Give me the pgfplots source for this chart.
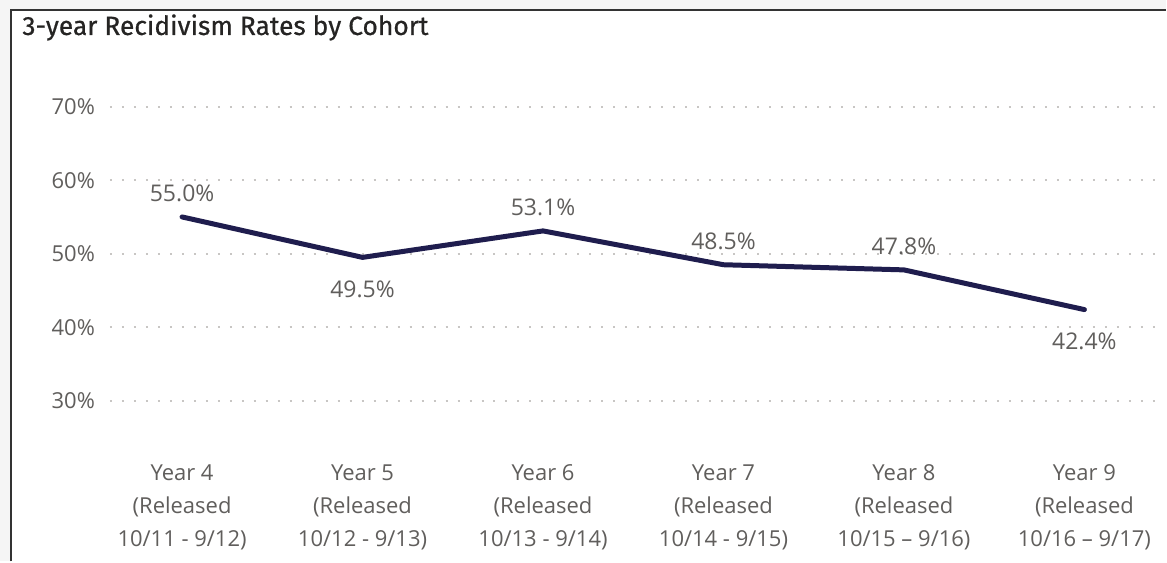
\documentclass[border=0pt]{standalone}
\usepackage{pgfplots}
\pgfplotsset{compat=1.18}
\usepackage{fontspec}
\setmainfont{Open Sans}
\newfontfamily\titlefont[FakeBold=0.6]{Fira Sans}
\definecolor{navy}{HTML}{1F1D4E}
\definecolor{lblgray}{HTML}{605E5C}
\definecolor{gridgray}{HTML}{C8C6C4}
\definecolor{titlecol}{HTML}{252423}

\begin{document}
\begin{tikzpicture}[x=1pt,y=1pt]
% frame
\fill[black!4] (0,0) rectangle (583.5,281);
\fill[white] (5.5,0) rectangle (583.5,276);
\draw[black!80, line width=1.2pt] (5.5,0) -- (5.5,276) -- (583.5,276);
\node[anchor=base west, font=\titlefont\fontsize{13.2}{15}\selectfont, text=titlecol, inner sep=0]
  at (11,263.5) {3-year Recidivism Rates by Cohort};

\begin{axis}[
    at={(55pt,62pt)}, anchor=south west,
    scale only axis, width=527.5pt, height=173pt,
    xmin=-0.4, xmax=5.44, ymin=25, ymax=72,
    axis line style={draw=none},
    major tick length=0pt,
    clip=false,
    ytick={30,40,50,60,70},
    yticklabels={30\%,40\%,50\%,60\%,70\%},
    yticklabel style={font=\fontsize{11}{13}\selectfont, text=lblgray, xshift=-4pt},
    xtick={0,1,2,3,4,5},
    xticklabels={
        {Year 4\\(Released\\10/11 - 9/12)},
        {Year 5\\(Released\\10/12 - 9/13)},
        {Year 6\\(Released\\10/13 - 9/14)},
        {Year 7\\(Released\\10/14 - 9/15)},
        {Year 8\\(Released\\10/15 – 9/16)},
        {Year 9\\(Released\\10/16 – 9/17)}},
    xticklabel style={align=center, font=\fontsize{11}{16.5}\selectfont, text=lblgray, yshift=-10pt},
    ymajorgrids,
    grid style={gridgray, line width=1pt, dash pattern=on 1pt off 5pt},
]
\addplot[navy, line width=2.5pt, line join=round, line cap=round] coordinates {
    (0,55.0) (1,49.5) (2,53.1) (3,48.5) (4,47.8) (5,42.4)
};
% labels above the line
\addplot[draw=none, point meta=y,
    nodes near coords={\pgfmathprintnumber[fixed,fixed zerofill,precision=1,assume math mode=true]{\pgfplotspointmeta}\%},
    nodes near coords style={font=\fontsize{11.5}{13}\selectfont, text=lblgray, anchor=south, yshift=4pt}]
    coordinates {(0,55.0) (2,53.1) (3,48.5) (4,47.8)};
% labels below the line
\addplot[draw=none, point meta=y,
    nodes near coords={\pgfmathprintnumber[fixed,fixed zerofill,precision=1,assume math mode=true]{\pgfplotspointmeta}\%},
    nodes near coords style={font=\fontsize{11.5}{13}\selectfont, text=lblgray, anchor=north, yshift=-8pt}]
    coordinates {(1,49.5) (5,42.4)};
\end{axis}
\path[use as bounding box] (0,0) rectangle (583.5,281);
\end{tikzpicture}
\end{document}
